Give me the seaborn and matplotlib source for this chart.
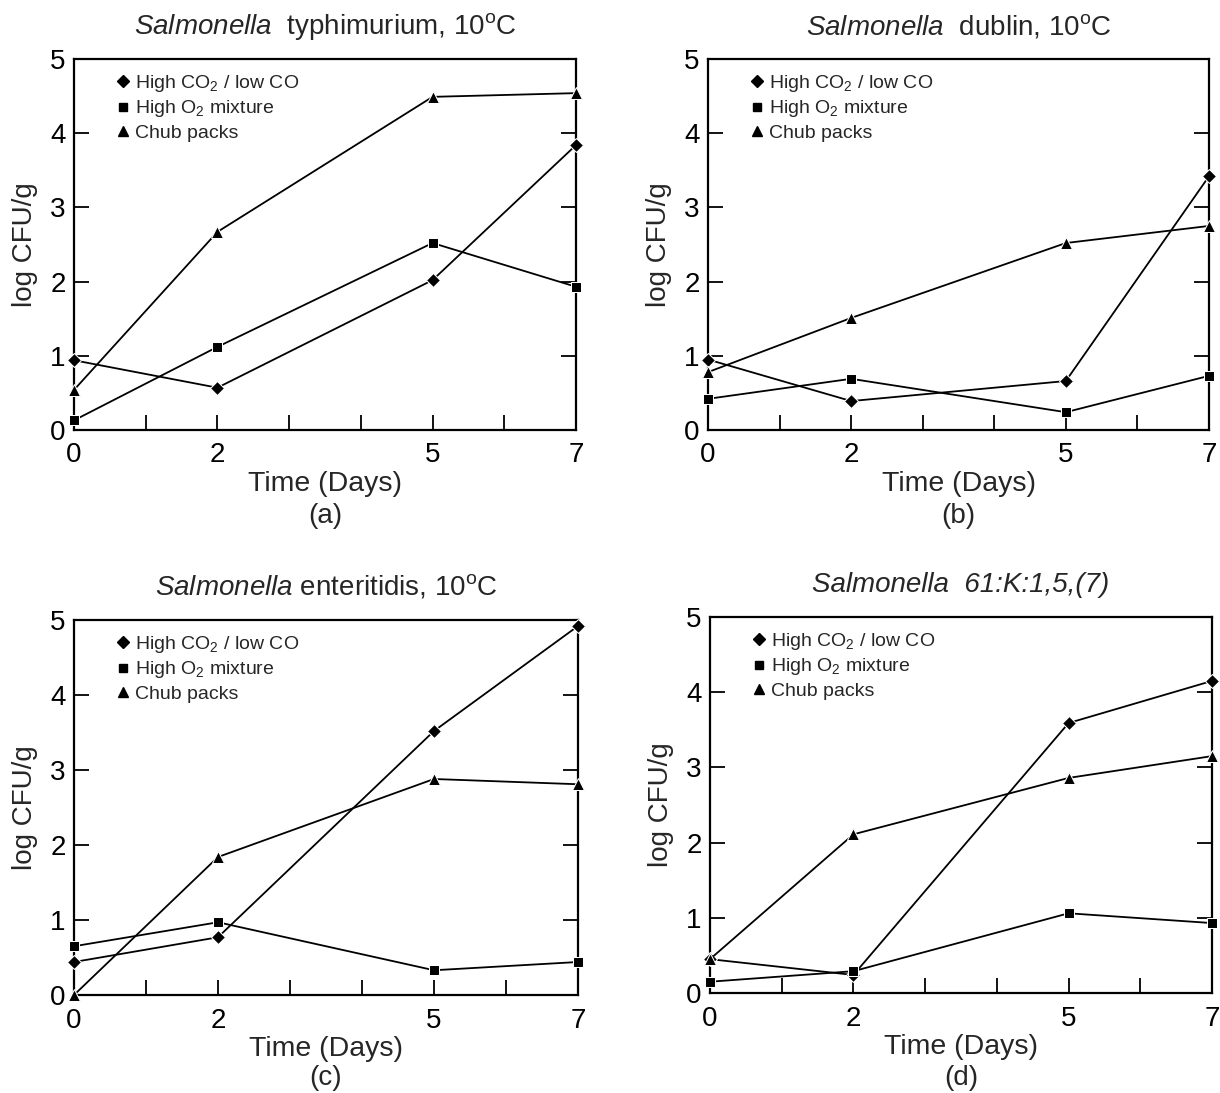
import pandas as pd
import matplotlib.pyplot as plt
from matplotlib.lines import Line2D
import seaborn as sns

sns.set_theme(style='ticks')
plt.rcParams['font.family'] = ['Liberation Sans', 'DejaVu Sans']
plt.rcParams['mathtext.fontset'] = 'custom'
plt.rcParams['mathtext.rm'] = 'Liberation Sans'
plt.rcParams['mathtext.it'] = 'Liberation Sans:italic'

# Datos
days = [0, 2, 5, 7]
series = ['co2', 'o2', 'chub']
series_labels = {'co2': 'High CO$_2$ / low CO',
                 'o2': 'High O$_2$ mixture',
                 'chub': 'Chub packs'}
markers = {'co2': 'D', 'o2': 's', 'chub': '^'}
msizes = {'co2': 7, 'o2': 7, 'chub': 8}

# (a) S. typhimurium
a_co2 = [0.94, 0.57, 2.02, 3.84]
a_o2 = [0.13, 1.12, 2.52, 1.93]
a_chub = [0.54, 2.67, 4.49, 4.54]
# (b) S. dublin
b_co2 = [0.95, 0.39, 0.66, 3.42]
b_o2 = [0.42, 0.69, 0.24, 0.73]
b_chub = [0.78, 1.51, 2.52, 2.75]
# (c) S. enteritidis
c_co2 = [0.44, 0.77, 3.52, 4.92]
c_o2 = [0.65, 0.97, 0.33, 0.44]
c_chub = [0.0, 1.84, 2.88, 2.81]
# (d) S. 61:K:1,5,(7)
d_co2 = [0.45, 0.24, 3.59, 4.15]
d_o2 = [0.15, 0.29, 1.06, 0.93]
d_chub = [0.45, 2.11, 2.86, 3.15]

titles = [r'$\it{Salmonella}$  typhimurium, 10$^{\rm o}$C',
          r'$\it{Salmonella}$  dublin, 10$^{\rm o}$C',
          r'$\it{Salmonella}$ enteritidis, 10$^{\rm o}$C',
          'Salmonella  61:K:1,5,(7)']
panel_tags = ['(a)', '(b)', '(c)', '(d)']
panel_data = [(a_co2, a_o2, a_chub), (b_co2, b_o2, b_chub),
              (c_co2, c_o2, c_chub), (d_co2, d_o2, d_chub)]

W, H = 1220, 1093
# posiciones en pixeles: izquierda, derecha, arriba, abajo
boxes = [(74, 576, 59, 430), (708, 1209, 59, 430),
         (74, 578, 620, 995), (710, 1212, 617, 993)]
tag_y = [516, 516, 1078, 1078]

fig = plt.figure(figsize=(W / 100, H / 100), dpi=100)
fig.patch.set_facecolor('white')

for i, (box, vals) in enumerate(zip(boxes, panel_data)):
    l, r, t, b = box
    ax = fig.add_axes([l / W, 1 - b / H, (r - l) / W, (b - t) / H])
    ax.set_facecolor('white')
    filas = []
    for key, v in zip(series, vals):
        for d, y in zip(days, v):
            filas.append({'day': d, 'log': y, 'serie': key})
    df = pd.DataFrame(filas)
    sns.lineplot(data=df, x='day', y='log', style='serie', markers=markers,
                 dashes=False, color='black', linewidth=1.3, markersize=8,
                 legend=False, ax=ax, clip_on=False, zorder=3)
    for ln, key in zip(ax.get_lines(), series):
        ln.set_markersize(msizes[key])

    ax.set_xlim(0, 7)
    ax.set_ylim(0, 5)
    ax.set_xticks(range(8))
    ax.set_xticklabels(['0', '', '2', '', '', '5', '', '7'])
    ax.set_yticks(range(6))
    ax.tick_params(axis='both', direction='in', length=11, width=1.3,
                   labelsize=20, colors='black')
    ax.tick_params(axis='x', pad=9)
    ax.tick_params(axis='y', right=True, pad=6)
    for s in ax.spines.values():
        s.set_linewidth(1.6)
        s.set_color('black')
    ax.set_xlabel('Time (Days)', fontsize=20.5, labelpad=2)
    ax.set_ylabel('log CFU/g', fontsize=20, labelpad=9)
    if i == 3:
        ax.set_title(titles[i], fontsize=20, fontstyle='italic', pad=18)
    else:
        ax.set_title(titles[i], fontsize=20, pad=18)

    handles = [Line2D([], [], linestyle='none', marker=markers[k], color='black',
                      markersize=msizes[k] - 1) for k in series]
    ax.legend(handles, [series_labels[k] for k in series], loc='upper left',
              bbox_to_anchor=(0.055, 0.995), frameon=False, fontsize=14,
              handletextpad=0.1, handlelength=1.0, labelspacing=0.25,
              borderaxespad=0.2)

    fig.text(((l + r) / 2) / W, 1 - tag_y[i] / H, panel_tags[i],
             ha='center', va='center', fontsize=20)

fig.savefig('out.png', dpi=100, facecolor='white')
